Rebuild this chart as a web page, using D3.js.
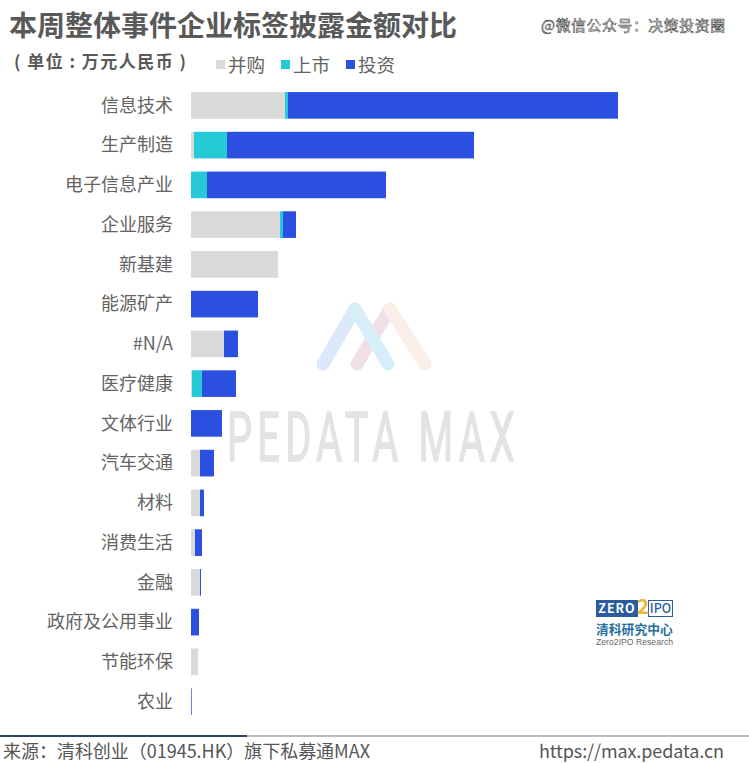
<!DOCTYPE html>
<html><head><meta charset="utf-8">
<script src="https://cdn.jsdelivr.net/npm/d3@7/dist/d3.min.js"></script>
<style>html,body{margin:0;padding:0;background:#fff}svg{display:block}text{font-family:"Noto Sans CJK SC","Noto Sans",sans-serif}</style>
</head><body><svg id="c" width="749" height="763"></svg>
<script>
const categories=["信息技术","生产制造","电子信息产业","企业服务","新基建","能源矿产","#N/A","医疗健康","文体行业","汽车交通","材料","消费生活","金融","政府及公用事业","节能环保","农业"];
const seriesNames=["并购","上市","投资"];
const mergers=[940,30,0,890,870,0,330,10,0,90,90,40,90,0,70,0];
const ipos=[30,330,160,30,0,0,0,100,0,0,0,0,0,0,0,0];
const investments=[3300,2470,1790,130,0,670,140,340,310,140,40,70,10,80,0,7];
const colors=["#d9d9d9","#26c9d6","#2b50e0"];

const svg=d3.select("#c");
const rows=categories.map((c,i)=>({cat:c,"并购":mergers[i],"上市":ipos[i],"投资":investments[i]}));
const stacked=d3.stack().keys(seriesNames)(rows);
const x=d3.scaleLinear().domain([0,5000]).range([191,691]);
const y=d3.scaleBand().domain(categories).range([85.5,721.5]).paddingInner(0.33).paddingOuter(0.165);

// watermark logo (behind bars)
const wm=svg.append("g");
const stroke=(pts,col)=>wm.append("path").attr("d",d3.line()(pts)).attr("fill","none").attr("stroke",col).attr("stroke-width",13).attr("stroke-linecap","round").attr("stroke-linejoin","round");
stroke([[357,364],[390,309]],"#f1dfe8");
stroke([[390,309],[425,364]],"#fbeee8");
stroke([[323,364],[355,309]],"#dbe9fb");
stroke([[355,309],[388,364]],"#d5eefa");
wm.append("text").attr("x",227).attr("y",461).attr("font-size",68)
  .attr("textLength",293).attr("lengthAdjust","spacingAndGlyphs").attr("letter-spacing",9)
  .attr("stroke","#e3e3e3").attr("stroke-width",1.6)
  .style("font-family","'Liberation Sans Narrow','Roboto','Noto Sans',sans-serif")
  .attr("fill","#e3e3e3").text("PEDATA MAX");

// bars
svg.append("g").selectAll("g").data(stacked).join("g").attr("fill",(d,i)=>colors[i])
  .selectAll("rect").data(d=>d.map(v=>({v,cat:v.data.cat}))).join("rect")
  .attr("x",d=>x(d.v[0])).attr("width",d=>x(d.v[1])-x(d.v[0]))
  .attr("y",d=>y(d.cat)).attr("height",y.bandwidth());

// category axis
const ax=svg.append("g").attr("transform","translate(191,0.5)").call(d3.axisLeft(y).tickSize(0).tickPadding(18));
ax.select(".domain").remove();
ax.selectAll("text").attr("font-size",18).attr("fill","#636363").style("font-family",'"Noto Sans CJK SC"');

// title
svg.append("text").attr("x",9).attr("y",36).attr("font-size",28).attr("font-weight",700).attr("fill","#595959").text("本周整体事件企业标签披露金额对比");
svg.append("text").attr("x",14).attr("y",68).attr("font-size",17).attr("font-weight",700).attr("fill","#595959").attr("textLength",172).text("( 单位 : 万元人民币 )");
svg.append("text").attr("x",541).attr("y",31).attr("font-size",14.8).attr("textLength",184).attr("fill","#fff").attr("stroke","#3a3a3a").attr("stroke-width",0.55).text("@微信公众号：决策投资圈");

// legend
const legendX=d3.scaleOrdinal().domain(seriesNames).range([216,281,346]);
const lg=svg.append("g").selectAll("g").data(seriesNames).join("g").attr("transform",d=>`translate(${legendX(d)},0)`);
lg.append("rect").attr("y",60).attr("width",9).attr("height",9).attr("fill",(d,i)=>colors[i]);
lg.append("text").attr("x",12).attr("y",71.5).attr("font-size",18.5).attr("fill","#636363").text(d=>d);

// Zero2IPO logo
const lo=svg.append("g");
lo.append("rect").attr("x",596).attr("y",600).attr("width",42).attr("height",17).attr("fill","#2a5d9e");
lo.append("rect").attr("x",648.5).attr("y",600.5).attr("width",24).attr("height",16).attr("fill","#fff").attr("stroke","#2a5d9e");
lo.append("text").attr("x",617).attr("y",613).attr("text-anchor","middle").attr("font-size",12.5).attr("font-weight",700).attr("letter-spacing",1).attr("fill","#fff").text("ZERO");
lo.append("text").attr("x",643).attr("y",614).attr("text-anchor","middle").attr("font-size",21).attr("font-weight",700).attr("fill","#e8b93a").text("2");
lo.append("text").attr("x",660.5).attr("y",613).attr("text-anchor","middle").attr("font-size",12.5).attr("font-weight",500).attr("fill","#2a5d9e").text("IPO");
lo.append("text").attr("x",596).attr("y",634).attr("font-size",12.8).attr("font-weight",700).attr("fill","#1f6f9e").text("清科研究中心");
lo.append("text").attr("x",596).attr("y",645).attr("font-size",8.6).attr("textLength",77).style("font-family","'Liberation Sans',sans-serif").attr("fill","#666").text("Zero2IPO Research");

// footer
svg.append("rect").attr("x",0).attr("y",735).attr("width",749).attr("height",2).attr("fill","#bdbdbd");
svg.append("rect").attr("x",0).attr("y",735).attr("width",247).attr("height",2).attr("fill","#2f4468");
svg.append("text").attr("x",3).attr("y",758).attr("font-size",18).attr("textLength",367).attr("fill","#555").text("来源：清科创业（01945.HK）旗下私募通MAX");
svg.append("text").attr("x",539).attr("y",758).attr("font-size",18).attr("textLength",185).attr("fill","#555").text("https://max.pedata.cn");
</script></body></html>
